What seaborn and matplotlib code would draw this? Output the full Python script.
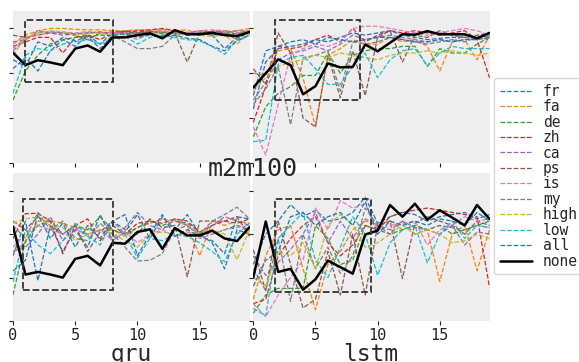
import matplotlib
matplotlib.use("Agg")
import matplotlib.pyplot as plt
from matplotlib.patches import Rectangle
import seaborn as sns

# ---- data -------------------------------------------------------------------
steps = list(range(20))
names = ["fr", "fa", "de", "zh", "ca", "ps", "is", "my", "high", "low", "all", "none"]
colors = ["#1f77b4", "#ff7f0e", "#2ca02c", "#d62728", "#9467bd", "#8c564b",
          "#e377c2", "#7f7f7f", "#bcbd22", "#17becf", "#1f77b4", "black"]

m2m100 = {
    "fr":   [2.10, 2.35, 2.05, 2.50, 2.75, 2.60, 2.85, 2.65, 2.90, 2.95, 2.92, 2.95, 2.88, 2.90, 2.85, 2.90, 2.85, 2.55, 2.80, 2.90],
    "fa":   [2.65, 2.85, 2.95, 3.00, 3.00, 2.98, 2.97, 2.97, 2.95, 2.95, 2.97, 2.96, 2.98, 2.95, 2.97, 2.85, 2.95, 2.93, 2.95, 3.00],
    "de":   [1.40, 2.05, 2.40, 2.65, 2.75, 2.80, 2.82, 2.85, 2.85, 2.88, 2.90, 2.92, 2.90, 2.90, 2.85, 2.90, 2.88, 2.90, 2.88, 2.95],
    "zh":   [2.60, 2.70, 2.80, 2.80, 2.45, 2.80, 2.85, 2.75, 2.90, 2.92, 2.95, 2.97, 3.00, 2.95, 2.90, 2.95, 2.92, 2.90, 2.75, 2.95],
    "ca":   [2.50, 2.75, 2.95, 2.90, 2.85, 2.88, 2.90, 2.92, 2.90, 2.90, 2.88, 2.93, 2.95, 2.90, 2.90, 2.92, 2.93, 2.88, 2.85, 2.93],
    "ps":   [2.85, 2.80, 2.85, 2.90, 2.90, 2.85, 2.75, 2.90, 2.92, 2.93, 2.90, 2.93, 2.92, 2.90, 2.25, 2.90, 2.93, 2.95, 2.90, 2.95],
    "is":   [2.55, 2.80, 2.85, 2.90, 2.92, 2.90, 2.93, 2.90, 2.92, 2.85, 2.75, 2.90, 2.95, 2.88, 2.92, 2.95, 2.97, 2.95, 2.90, 2.95],
    "my":   [2.70, 2.75, 2.90, 2.93, 2.90, 2.88, 2.90, 2.92, 2.85, 2.70, 2.55, 2.55, 2.60, 2.85, 2.88, 2.90, 2.85, 2.90, 2.95, 2.93],
    "high": [2.40, 2.80, 2.90, 2.95, 2.93, 2.85, 2.88, 2.90, 2.85, 2.87, 2.85, 2.88, 2.87, 2.85, 2.88, 2.85, 2.82, 2.85, 2.65, 2.90],
    "low":  [1.55, 2.40, 2.55, 2.50, 2.65, 2.70, 2.75, 2.65, 2.78, 2.82, 2.65, 2.80, 2.85, 2.80, 2.75, 2.72, 2.60, 2.42, 2.75, 2.85],
    "all":  [2.30, 2.15, 2.70, 2.60, 2.80, 2.72, 2.82, 2.55, 2.85, 2.88, 2.80, 2.85, 2.82, 2.85, 2.78, 2.75, 2.60, 2.50, 2.72, 2.85],
    "none": [2.46, 2.18, 2.29, 2.24, 2.18, 2.55, 2.62, 2.48, 2.80, 2.80, 2.85, 2.89, 2.78, 2.96, 2.87, 2.87, 2.90, 2.85, 2.83, 2.92],
}

topright = {
    "fr":   [1.20, 2.25, 2.55, 2.60, 2.65, 2.75, 2.70, 2.80, 2.90, 2.85, 2.90, 2.95, 2.85, 2.80, 2.75, 2.78, 2.80, 2.80, 2.75, 2.85],
    "fa":   [2.00, 1.95, 2.50, 2.55, 1.90, 0.80, 2.40, 2.55, 2.75, 2.65, 2.65, 2.80, 2.70, 2.75, 2.60, 2.05, 2.70, 2.75, 2.30, 2.85],
    "de":   [0.58, 1.25, 1.55, 1.70, 1.95, 1.95, 2.45, 2.00, 2.40, 2.50, 2.55, 2.55, 2.60, 2.60, 2.15, 2.55, 2.45, 2.45, 2.65, 2.80],
    "zh":   [0.90, 1.70, 2.60, 2.55, 2.60, 2.75, 2.85, 2.70, 3.00, 2.70, 2.85, 2.95, 2.90, 2.95, 2.90, 2.85, 2.90, 2.95, 2.75, 1.90],
    "ca":   [1.40, 1.80, 2.30, 2.45, 2.50, 2.60, 2.50, 2.65, 2.85, 2.75, 2.80, 2.85, 2.80, 2.75, 2.70, 2.75, 2.70, 2.85, 2.80, 2.75],
    "ps":   [2.10, 1.75, 2.90, 2.45, 1.00, 0.80, 2.40, 1.45, 2.50, 1.50, 2.80, 2.95, 2.25, 2.85, 2.80, 2.95, 2.85, 2.80, 2.85, 2.90],
    "is":   [0.80, 0.17, 1.30, 2.40, 2.55, 2.65, 2.60, 2.70, 3.00, 3.05, 3.05, 3.00, 2.95, 2.90, 2.85, 2.90, 2.95, 3.00, 2.95, 2.85],
    "my":   [1.30, 1.65, 2.15, 0.85, 2.35, 2.40, 2.50, 1.60, 2.70, 2.65, 2.70, 2.80, 2.75, 2.70, 2.65, 2.70, 2.75, 2.70, 2.80, 2.85],
    "high": [1.60, 1.90, 2.15, 2.25, 2.30, 2.40, 2.35, 2.45, 2.40, 2.35, 2.30, 2.40, 2.45, 2.45, 2.50, 2.45, 2.50, 2.45, 2.40, 2.45],
    "low":  [0.47, 0.50, 2.20, 2.35, 2.40, 2.10, 1.75, 1.75, 2.15, 2.45, 1.90, 2.30, 2.50, 2.55, 2.17, 2.45, 2.60, 2.55, 2.55, 2.55],
    "all":  [1.50, 2.50, 2.60, 2.70, 2.75, 2.65, 2.80, 2.75, 2.70, 2.75, 2.80, 2.80, 2.75, 2.70, 2.70, 2.75, 2.70, 2.75, 2.75, 2.80],
    "none": [1.68, 2.00, 2.31, 2.18, 1.53, 1.71, 2.22, 2.13, 2.14, 2.64, 2.49, 2.68, 2.87, 2.86, 2.94, 2.87, 2.87, 2.87, 2.78, 2.90],
}

gru = {
    "fr":   [1.50, 2.30, 0.93, 2.20, 1.60, 2.10, 1.70, 2.45, 1.85, 2.05, 2.45, 1.90, 2.40, 2.10, 2.45, 2.00, 1.80, 1.20, 2.10, 2.00],
    "fa":   [1.60, 1.80, 2.30, 2.30, 2.25, 2.15, 2.10, 2.05, 2.10, 1.95, 2.15, 2.25, 2.35, 2.30, 2.20, 1.50, 2.30, 2.20, 2.30, 2.25],
    "de":   [0.60, 1.85, 2.20, 2.30, 2.00, 2.20, 2.10, 2.40, 2.10, 2.00, 2.15, 2.30, 2.20, 2.30, 2.25, 2.05, 2.00, 2.10, 2.20, 2.10],
    "zh":   [1.90, 2.47, 2.48, 2.30, 1.55, 2.20, 2.35, 1.85, 2.20, 2.00, 2.25, 2.30, 2.25, 2.35, 2.30, 2.05, 2.20, 2.30, 2.40, 1.95],
    "ca":   [1.60, 1.70, 2.00, 2.40, 1.85, 2.10, 2.00, 2.10, 1.90, 2.15, 2.50, 2.20, 2.10, 2.35, 2.20, 1.95, 2.20, 2.40, 2.30, 2.20],
    "ps":   [2.30, 2.10, 2.40, 2.20, 2.00, 2.20, 1.60, 2.05, 2.30, 2.10, 2.00, 2.35, 2.15, 2.20, 1.02, 2.30, 2.30, 2.30, 2.25, 2.35],
    "is":   [1.70, 2.00, 2.20, 2.10, 2.00, 2.15, 1.95, 2.10, 1.85, 2.05, 1.80, 2.00, 2.10, 1.95, 2.05, 1.90, 2.00, 2.10, 2.15, 2.20],
    "my":   [2.20, 1.90, 2.50, 2.10, 2.30, 1.90, 1.85, 2.25, 2.00, 1.70, 1.38, 1.40, 1.55, 2.10, 2.20, 2.00, 2.30, 2.45, 2.62, 2.35],
    "high": [2.25, 2.35, 2.40, 2.20, 2.15, 1.85, 2.00, 2.10, 2.00, 1.85, 1.70, 2.00, 2.05, 2.00, 1.95, 2.05, 2.10, 2.00, 1.41, 2.10],
    "low":  [0.90, 2.10, 1.75, 1.55, 1.85, 2.25, 1.95, 1.75, 2.30, 2.00, 1.45, 1.90, 1.85, 2.00, 1.95, 1.80, 1.60, 1.36, 2.00, 2.25],
    "all":  [1.15, 1.40, 2.45, 1.90, 2.25, 1.70, 2.20, 1.90, 2.30, 2.45, 1.50, 2.00, 2.45, 1.95, 2.10, 1.95, 1.85, 1.55, 2.40, 2.35],
    "none": [2.17, 1.07, 1.13, 1.07, 1.00, 1.43, 1.50, 1.28, 1.80, 1.78, 2.05, 2.11, 1.66, 2.14, 1.97, 1.97, 2.08, 1.90, 1.84, 2.16],
}

lstm = {
    "fr":   [1.30, 2.00, 2.30, 2.68, 2.40, 2.55, 2.30, 2.35, 2.50, 2.85, 2.25, 2.40, 2.50, 2.45, 2.30, 2.40, 2.45, 2.50, 2.35, 2.45],
    "fa":   [0.50, 1.50, 2.10, 2.20, 1.20, 0.26, 1.30, 1.60, 2.10, 2.30, 2.20, 2.30, 2.10, 2.20, 2.10, 0.91, 2.00, 2.20, 1.16, 2.10],
    "de":   [0.18, 0.60, 0.75, 0.75, 0.75, 2.20, 1.90, 1.30, 1.40, 2.20, 2.10, 2.00, 2.10, 2.20, 2.10, 2.20, 2.00, 2.10, 2.20, 2.30],
    "zh":   [0.40, 0.50, 1.50, 1.90, 2.20, 2.40, 1.80, 1.50, 1.75, 2.20, 2.10, 2.40, 2.50, 2.55, 2.60, 2.55, 2.50, 2.45, 2.40, 0.78],
    "ca":   [1.50, 1.05, 1.35, 1.65, 2.00, 2.50, 1.80, 2.30, 1.90, 2.35, 2.20, 2.00, 2.30, 2.15, 2.10, 2.00, 2.20, 1.75, 2.05, 2.00],
    "ps":   [1.64, 0.70, 2.30, 1.30, 0.30, 0.50, 1.60, 0.60, 2.00, 0.60, 2.20, 2.30, 0.98, 2.25, 2.40, 2.30, 2.20, 2.00, 2.30, 2.20],
    "is":   [0.40, 0.10, 0.60, 1.00, 1.40, 2.60, 2.10, 2.77, 2.60, 2.70, 2.10, 2.20, 2.25, 2.30, 1.75, 2.10, 2.20, 2.40, 2.30, 2.35],
    "my":   [1.20, 0.70, 1.90, 0.45, 2.00, 1.20, 1.70, 1.10, 1.50, 2.60, 2.20, 2.10, 2.30, 2.00, 2.10, 2.20, 2.15, 2.10, 2.20, 2.15],
    "high": [1.00, 0.80, 1.60, 1.50, 1.80, 1.20, 2.20, 2.45, 2.20, 1.70, 1.80, 2.00, 2.20, 2.00, 2.10, 2.00, 1.80, 1.85, 2.00, 1.90],
    "low":  [0.29, 0.12, 1.90, 2.20, 2.50, 1.40, 1.00, 1.70, 2.40, 2.00, 1.05, 1.80, 2.10, 2.20, 1.34, 2.00, 2.30, 1.90, 2.20, 2.15],
    "all":  [0.80, 1.40, 1.60, 2.40, 2.50, 2.20, 2.40, 2.50, 2.20, 2.75, 2.00, 2.30, 2.20, 2.30, 2.20, 2.35, 2.30, 2.20, 2.50, 2.30],
    "none": [1.00, 2.29, 1.13, 1.20, 0.72, 0.96, 1.39, 1.24, 1.09, 1.99, 2.08, 2.67, 2.40, 2.70, 2.33, 2.55, 2.38, 2.20, 2.67, 2.35],
}

# highlighted windows (x0, x1, y0, y1) per panel
boxes = [(0.93, 8.0, 1.81, 3.20), (1.75, 8.55, 1.40, 3.20),
         (0.81, 8.06, 0.72, 2.80), (1.75, 9.49, 0.66, 2.81)]

# ---- style ------------------------------------------------------------------
sns.set_style("dark")
plt.rcParams.update({
    "axes.facecolor": "#eeeeee",
    "axes.edgecolor": "#eeeeee",
    "xtick.bottom": True,
    "ytick.left": True,
    "xtick.color": "#222222",
    "ytick.color": "#222222",
    "xtick.major.size": 3,
    "ytick.major.size": 3,
})
plt.rcParams["font.family"] = ["DejaVu Sans Mono"]

W, H = 579, 362
fig = plt.figure(figsize=(W / 100, H / 100), dpi=100)


def frac(x0, y0, x1, y1):
    return [x0 / W, 1 - y1 / H, (x1 - x0) / W, (y1 - y0) / H]


panels = [
    (m2m100, frac(13, 11, 249.5, 162.7), (0, 3.39), False),
    (topright, frac(253.3, 11, 489.5, 162.7), (0, 3.39), False),
    (gru, frac(13, 173.3, 249.5, 321), (0.08, 3.40), True),
    (lstm, frac(253.3, 173.3, 489.5, 321), (0.08, 3.40), True),
]

axes = []
for (data, rect, ylim, show_x), box in zip(panels, boxes):
    ax = fig.add_axes(rect)
    for name, c in zip(names, colors):
        solid = name == "none"
        sns.lineplot(x=steps, y=data[name], ax=ax, color=c,
                     linestyle="-" if solid else "--",
                     lw=1.8 if solid else 0.9, label=name, legend=False)
    x0, x1, y0, y1 = box
    ax.add_patch(Rectangle((x0, y0), x1 - x0, y1 - y0, fill=False,
                           ls="--", lw=1.3, ec="#333333", zorder=5))
    ax.set_xlim(0, 19)
    ax.set_ylim(*ylim)
    ax.set_xticks([0, 5, 10, 15])
    ax.set_yticks([0, 1, 2, 3])
    ax.set_yticklabels([])
    if not show_x:
        ax.set_xticklabels([])
    ax.tick_params(labelsize=11, pad=2)
    ax.set_xlabel("")
    ax.set_ylabel("")
    for s in ax.spines.values():
        s.set_visible(False)
    axes.append(ax)

fig.text(253 / W, 1 - 176 / H, "m2m100", ha="center", va="baseline", fontsize=18, zorder=10)
fig.text(131 / W, 1 - 361 / H, "gru", ha="center", va="baseline", fontsize=16.5)
fig.text(371 / W, 1 - 361 / H, "lstm", ha="center", va="baseline", fontsize=16.5)

handles, labels = axes[0].get_legend_handles_labels()
fig.legend(handles, labels, loc="upper left", bbox_to_anchor=(494 / W, 1 - 78 / H),
           borderaxespad=0, fontsize=10.5, labelspacing=0.03, handlelength=2.2,
           handletextpad=0.75, frameon=True, fancybox=True, facecolor="white",
           edgecolor="#cccccc", framealpha=0.8)

fig.savefig("out.png", dpi=100)
